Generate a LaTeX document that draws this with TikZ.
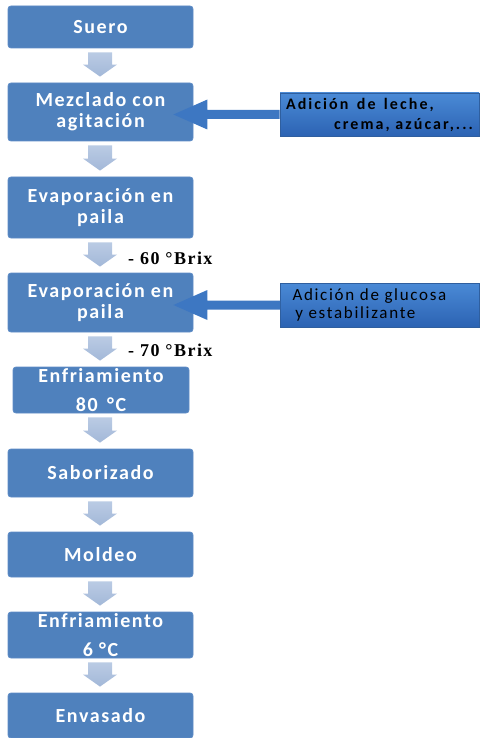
\documentclass[tikz,border=0pt]{standalone}
\usepackage{fontspec}
\setmainfont{Carlito}
\newfontfamily\boxfont[LetterSpace=8]{Carlito}
\newfontfamily\sidefontA[LetterSpace=13]{Carlito}
\newfontfamily\sidefontB[LetterSpace=10]{Carlito}
\newfontfamily\brixfont[LetterSpace=8]{Liberation Serif}
\usetikzlibrary{calc}
\definecolor{boxblue}{HTML}{4F81BD}
\definecolor{boxedge}{HTML}{5E8CC6}
\definecolor{arrowtop}{HTML}{BACBE4}
\definecolor{arrowbot}{HTML}{A3B8D8}
\definecolor{sidetop}{HTML}{4A8AD6}
\definecolor{sidebot}{HTML}{2C63B3}
\definecolor{sideedge}{HTML}{2F5F9F}
\definecolor{sidearrow}{HTML}{3D77C2}
\newcommand\downarr[2]{%
  \shade[top color=arrowtop, bottom color=arrowbot]
    let \p1=(#1.south), \p2=(#2.north) in
    (100pt,\y1-4pt) ++(-12pt,0) -- ++(24pt,0) -- (112pt,\y2+18pt) -- (117pt,\y2+18pt)
    -- (100pt,\y2+6pt) -- (83pt,\y2+18pt) -- (88pt,\y2+18pt) -- cycle;}
\newcommand\sidearr[2]{%
  \fill[sidearrow]
    let \p1=(#1.west), \p2=(#2.east) in
    (\x1,\y1+4.5pt) -- (\x2+14pt,\y1+4.5pt) -- (\x2+14pt,\y1+15pt) -- (\x2-20pt,\y1)
    -- (\x2+14pt,\y1-15pt) -- (\x2+14pt,\y1-4.5pt) -- (\x1,\y1-4.5pt) -- cycle;}
\begin{document}
\begin{tikzpicture}[x=1pt,y=-1pt,
  box/.style={rectangle, rounded corners=3pt, fill=boxblue, draw=boxedge, line width=0.8pt,
    text=white, font=\boxfont\bfseries\fontsize{20}{21}\selectfont, align=center, inner sep=0pt},
  sidebox/.style={rectangle, top color=sidetop, bottom color=sidebot, draw=sideedge,
    line width=0.6pt, text=black, inner sep=0pt},
  brix/.style={font=\brixfont\bfseries\fontsize{18}{20}\selectfont, inner sep=0pt, anchor=west}]
\useasboundingbox (0,0) rectangle (479,738);
% main boxes
\node[box, minimum width=185pt, minimum height=42pt] (n1) at (100.5,27) {Suero};
\node[box, minimum width=185pt, minimum height=58pt] (n2) at (100.5,112) {Mezclado con\\agitación};
\node[box, minimum width=185pt, minimum height=61pt] (n3) at (100.5,207.5) {Evaporación en\\paila};
\node[box, minimum width=185pt, minimum height=59pt] (n4) at (100.5,302.5) {Evaporación en\\paila};
\node[box, minimum width=176pt, minimum height=46pt] (n5) at (101,390) {Enfriamiento\\[8pt]80 \,°C};
\node[box, minimum width=185pt, minimum height=48pt] (n6) at (100.5,473) {Saborizado};
\node[box, minimum width=185pt, minimum height=45pt] (n7) at (100.5,554.5) {Moldeo};
\node[box, minimum width=185pt, minimum height=46pt] (n8) at (100.5,635) {Enfriamiento\\[8pt]6 °C};
\node[box, minimum width=185pt, minimum height=45pt] (n9) at (100.5,715.5) {Envasado};
% side boxes
\node[sidebox, minimum width=199pt, minimum height=43pt, text width=187pt, align=flush left,
  font=\sidefontA\bfseries\fontsize{16}{20}\selectfont] (s1) at (379.5,114.5)
  {Adición \,de \,leche,\\\mbox{}\hfill crema, azúcar,...};
\node[sidebox, minimum width=199pt, minimum height=44pt, text width=175pt, align=flush left,
  font=\sidefontB\fontsize{17}{18}\selectfont] (s2) at (380,305)
  {Adición de glucosa\\\,y estabilizante};
% down arrows
\downarr{n1}{n2}
\downarr{n2}{n3}
\downarr{n3}{n4}
\downarr{n4}{n5}
\downarr{n5}{n6}
\downarr{n6}{n7}
\downarr{n7}{n8}
\downarr{n8}{n9}
% side arrows
\sidearr{s1}{n2}
\sidearr{s2}{n4}
% labels
\node[brix] (b1) at (128,258) {- 60 °Brix};
\node[brix] (b2) at (128,350) {- 70 °Brix};
\end{tikzpicture}
\end{document}
